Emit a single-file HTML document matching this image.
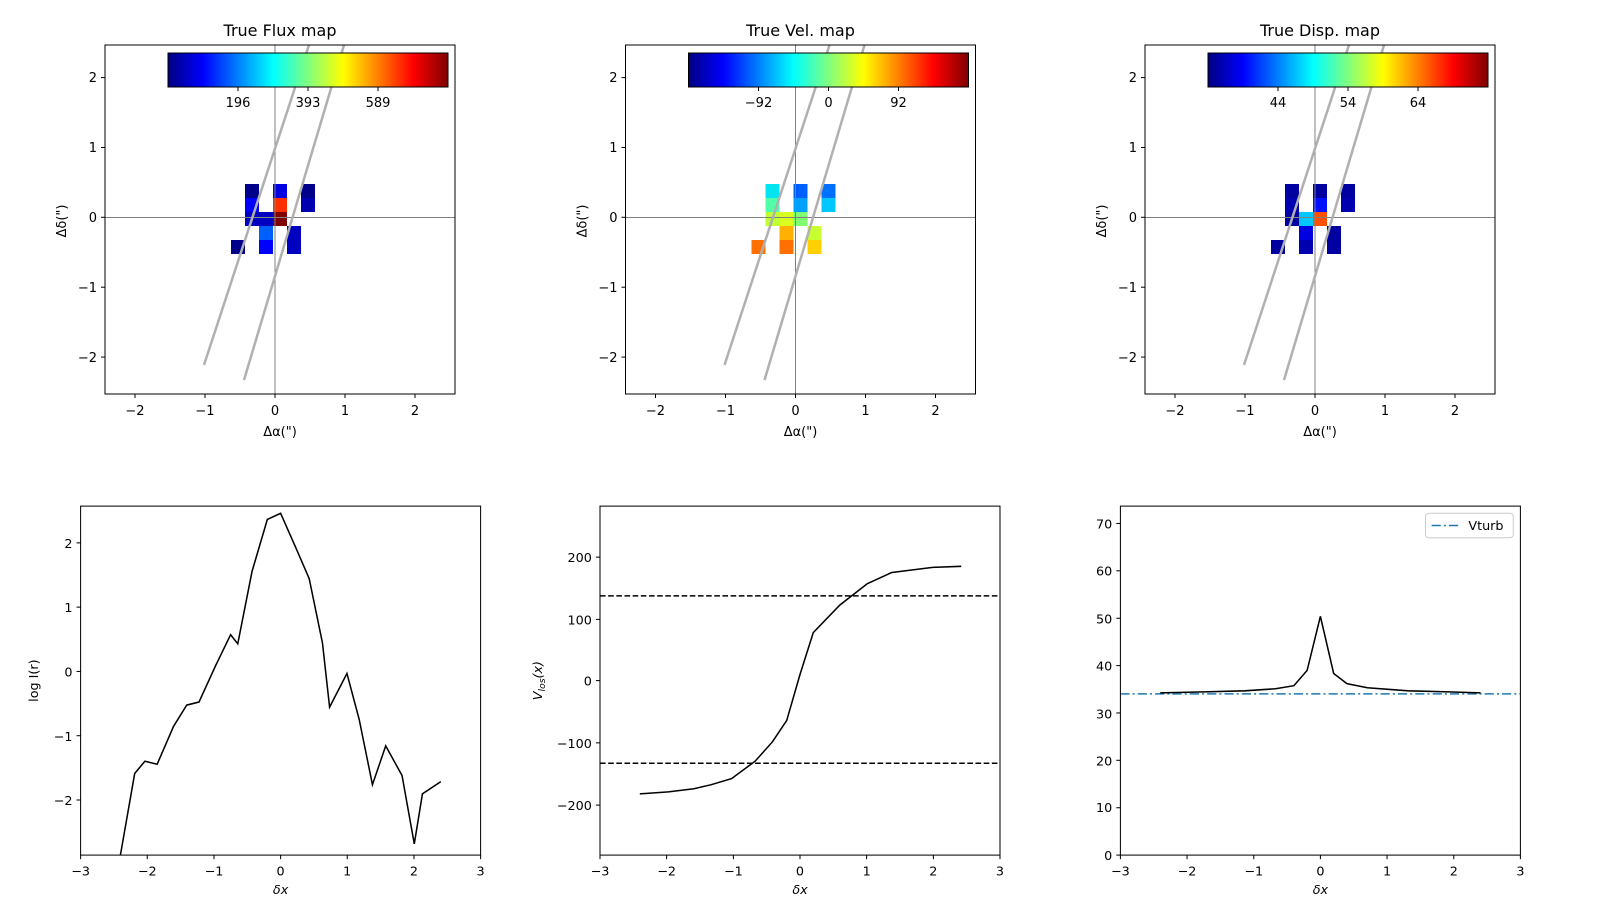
<!DOCTYPE html>
<html><head><meta charset="utf-8"><style>
html,body{margin:0;padding:0;background:#fff;}
svg{display:block;font-family:"DejaVu Sans","Liberation Sans",sans-serif;}
</style></head><body>
<svg width="1600" height="900" viewBox="0 0 1600 900" xmlns="http://www.w3.org/2000/svg">
<defs>
<linearGradient id="jet" x1="0" x2="1" y1="0" y2="0">
<stop offset="0" stop-color="#000080"/><stop offset="0.125" stop-color="#0000ff"/>
<stop offset="0.375" stop-color="#00ffff"/><stop offset="0.625" stop-color="#ffff00"/>
<stop offset="0.875" stop-color="#ff0000"/><stop offset="1" stop-color="#800000"/>
</linearGradient>
<g id="topframe">
  <line x1="275" y1="45" x2="275" y2="394" stroke="#808080" stroke-width="1"/>
  <line x1="105" y1="217.5" x2="455" y2="217.5" stroke="#808080" stroke-width="1"/>
  <line x1="204" y1="365" x2="309" y2="45" stroke="#b0b0b0" stroke-width="2.5"/>
  <line x1="244" y1="380" x2="344" y2="45" stroke="#b0b0b0" stroke-width="2.5"/>
  <rect x="105" y="45" width="350" height="349" fill="none" stroke="#000" stroke-width="1"/>
  <rect x="168" y="53" width="280" height="34" fill="url(#jet)" stroke="#000" stroke-width="1"/>
  <g stroke="#000"><line x1="238" y1="87" x2="238" y2="91"/><line x1="308" y1="87" x2="308" y2="91"/><line x1="378" y1="87" x2="378" y2="91"/></g>
  <g stroke="#000">
    <line x1="135" y1="394" x2="135" y2="398"/><line x1="205" y1="394" x2="205" y2="398"/><line x1="275" y1="394" x2="275" y2="398"/><line x1="345" y1="394" x2="345" y2="398"/><line x1="415" y1="394" x2="415" y2="398"/>
    <line x1="101" y1="77.6" x2="105" y2="77.6"/><line x1="101" y1="147.5" x2="105" y2="147.5"/><line x1="101" y1="217.3" x2="105" y2="217.3"/><line x1="101" y1="287.2" x2="105" y2="287.2"/><line x1="101" y1="357.1" x2="105" y2="357.1"/>
  </g>
  <g font-size="13" text-anchor="middle" fill="#000">
    <text x="135" y="415">−2</text><text x="205" y="415">−1</text><text x="275" y="415">0</text><text x="345" y="415">1</text><text x="415" y="415">2</text>
    <text x="280" y="436">Δα(")</text>
  </g>
  <g font-size="13" text-anchor="end" fill="#000">
    <text x="97" y="82">2</text><text x="97" y="152">1</text><text x="97" y="222">0</text><text x="97" y="292">−1</text><text x="97" y="362">−2</text>
  </g>
  <text transform="translate(66,221) rotate(-90)" font-size="13" text-anchor="middle">Δδ(")</text>
</g>
</defs>

<!-- Panel 1 -->
<g>
  <rect x="245" y="184" width="14" height="14" fill="#00008b"/>
  <rect x="245" y="198" width="14" height="14" fill="#0000ff"/>
  <rect x="245" y="212" width="14" height="14" fill="#0000c0"/>
  <rect x="259" y="212" width="14" height="14" fill="#0000c0"/>
  <rect x="273" y="184" width="14" height="14" fill="#0000e0"/>
  <rect x="273" y="198" width="14" height="14" fill="#ff3000"/>
  <rect x="273" y="212" width="14" height="14" fill="#800000"/>
  <rect x="301" y="184" width="14" height="14" fill="#00008b"/>
  <rect x="301" y="198" width="14" height="14" fill="#0000b0"/>
  <rect x="259" y="226" width="14" height="14" fill="#0060ff"/>
  <rect x="259" y="240" width="14" height="14" fill="#0000ff"/>
  <rect x="287" y="226" width="14" height="14" fill="#0000c0"/>
  <rect x="287" y="240" width="14" height="14" fill="#0000c0"/>
  <rect x="231" y="240" width="14" height="14" fill="#00008b"/>
  <use href="#topframe"/>
  <text x="280" y="36" font-size="16" text-anchor="middle">True Flux map</text>
  <g font-size="13" text-anchor="middle"><text x="238" y="107">196</text><text x="308" y="107">393</text><text x="378" y="107">589</text></g>
</g>

<!-- Panel 2 -->
<g transform="translate(520.5,0)">
  <rect x="245" y="184" width="14" height="14" fill="#00e5f0"/>
  <rect x="245" y="198" width="14" height="14" fill="#50ffa8"/>
  <rect x="245" y="212" width="14" height="14" fill="#c0ff30"/>
  <rect x="259" y="212" width="14" height="14" fill="#d8ff20"/>
  <rect x="273" y="184" width="14" height="14" fill="#0060ff"/>
  <rect x="273" y="198" width="14" height="14" fill="#00a0ff"/>
  <rect x="273" y="212" width="14" height="14" fill="#80ff70"/>
  <rect x="301" y="184" width="14" height="14" fill="#0070ff"/>
  <rect x="301" y="198" width="14" height="14" fill="#00c8ff"/>
  <rect x="259" y="226" width="14" height="14" fill="#ffb000"/>
  <rect x="259" y="240" width="14" height="14" fill="#ff7000"/>
  <rect x="231" y="240" width="14" height="14" fill="#ff7000"/>
  <rect x="287" y="226" width="14" height="14" fill="#c8ff30"/>
  <rect x="287" y="240" width="14" height="14" fill="#ffd000"/>
  <use href="#topframe"/>
  <text x="280" y="36" font-size="16" text-anchor="middle">True Vel. map</text>
  <g font-size="13" text-anchor="middle"><text x="238" y="107">−92</text><text x="308" y="107">0</text><text x="378" y="107">92</text></g>
</g>

<!-- Panel 3 -->
<g transform="translate(1040,0)">
  <rect x="245" y="184" width="14" height="14" fill="#0000a0"/>
  <rect x="245" y="198" width="14" height="14" fill="#0000b0"/>
  <rect x="245" y="212" width="14" height="14" fill="#0000a0"/>
  <rect x="259" y="212" width="14" height="14" fill="#00c8ff"/>
  <rect x="273" y="184" width="14" height="14" fill="#0000a0"/>
  <rect x="273" y="198" width="14" height="14" fill="#0010ff"/>
  <rect x="273" y="212" width="14" height="14" fill="#ff5000"/>
  <rect x="301" y="184" width="14" height="14" fill="#0000a0"/>
  <rect x="301" y="198" width="14" height="14" fill="#0000b0"/>
  <rect x="259" y="226" width="14" height="14" fill="#0000e0"/>
  <rect x="259" y="240" width="14" height="14" fill="#0000b0"/>
  <rect x="287" y="226" width="14" height="14" fill="#0000a0"/>
  <rect x="287" y="240" width="14" height="14" fill="#0000a0"/>
  <rect x="231" y="240" width="14" height="14" fill="#0000a0"/>
  <use href="#topframe"/>
  <text x="280" y="36" font-size="16" text-anchor="middle">True Disp. map</text>
  <g font-size="13" text-anchor="middle"><text x="238" y="107">44</text><text x="308" y="107">54</text><text x="378" y="107">64</text></g>
</g>

<!-- Bottom panels in perceived coords, scaled -->
<g transform="scale(1.0204)">
  <!-- BL -->
  <g stroke="#000" stroke-width="1">
    <line x1="79" y1="838" x2="79" y2="842"/><line x1="144.3" y1="838" x2="144.3" y2="842"/><line x1="209.7" y1="838" x2="209.7" y2="842"/><line x1="275" y1="838" x2="275" y2="842"/><line x1="340.3" y1="838" x2="340.3" y2="842"/><line x1="405.7" y1="838" x2="405.7" y2="842"/><line x1="471" y1="838" x2="471" y2="842"/>
    <line x1="75" y1="532" x2="79" y2="532"/><line x1="75" y1="595" x2="79" y2="595"/><line x1="75" y1="658" x2="79" y2="658"/><line x1="75" y1="721" x2="79" y2="721"/><line x1="75" y1="784" x2="79" y2="784"/>
  </g>
  <polyline fill="none" stroke="#000" stroke-width="1.5" points="118,838 132,758 142,746 154,749 170,712 183,691 195,688 211,653 226,622 233,631 247,560 262,509 275,503 290,537 303,567 316,630 323,693 340,660 352,705 365,769 378,731 394,760 406,827 414,778 432,766"/>
  <rect x="79" y="496" width="392" height="342" fill="none" stroke="#000"/>
  <g font-size="12.5" text-anchor="middle">
    <text x="79" y="858">−3</text><text x="144.3" y="858">−2</text><text x="209.7" y="858">−1</text><text x="275" y="858">0</text><text x="340.3" y="858">1</text><text x="405.7" y="858">2</text><text x="471" y="858">3</text>
    <text x="275" y="876" font-style="italic">δx</text>
  </g>
  <g font-size="12.5" text-anchor="end">
    <text x="71" y="537">2</text><text x="71" y="600">1</text><text x="71" y="663">0</text><text x="71" y="726">−1</text><text x="71" y="789">−2</text>
  </g>
  <text transform="translate(37,667) rotate(-90)" font-size="12.5" text-anchor="middle">log I(r)</text>

  <!-- BM -->
  <g stroke="#000" stroke-width="1">
    <line x1="588" y1="838" x2="588" y2="842"/><line x1="653.3" y1="838" x2="653.3" y2="842"/><line x1="718.7" y1="838" x2="718.7" y2="842"/><line x1="784" y1="838" x2="784" y2="842"/><line x1="849.3" y1="838" x2="849.3" y2="842"/><line x1="914.7" y1="838" x2="914.7" y2="842"/><line x1="980" y1="838" x2="980" y2="842"/>
    <line x1="584" y1="546" x2="588" y2="546"/><line x1="584" y1="607" x2="588" y2="607"/><line x1="584" y1="667" x2="588" y2="667"/><line x1="584" y1="728" x2="588" y2="728"/><line x1="584" y1="789" x2="588" y2="789"/>
  </g>
  <line x1="588" y1="584" x2="980" y2="584" stroke="#000" stroke-width="1.5" stroke-dasharray="5.5,2.5"/>
  <line x1="588" y1="748" x2="980" y2="748" stroke="#000" stroke-width="1.5" stroke-dasharray="5.5,2.5"/>
  <polyline fill="none" stroke="#000" stroke-width="1.5" points="627,778 655,776 680,773 697,769 717,763 740,746 757,727 771,706 784,661 797,620 823,593 850,572 874,561 914,556 942,555"/>
  <rect x="588" y="496" width="392" height="342" fill="none" stroke="#000"/>
  <g font-size="12.5" text-anchor="middle">
    <text x="588" y="858">−3</text><text x="653.3" y="858">−2</text><text x="718.7" y="858">−1</text><text x="784" y="858">0</text><text x="849.3" y="858">1</text><text x="914.7" y="858">2</text><text x="980" y="858">3</text>
    <text x="784" y="876" font-style="italic">δx</text>
  </g>
  <g font-size="12.5" text-anchor="end">
    <text x="580" y="551">200</text><text x="580" y="612">100</text><text x="580" y="672">0</text><text x="580" y="733">−100</text><text x="580" y="794">−200</text>
  </g>
  <text transform="translate(531,667) rotate(-90)" font-size="12.5" text-anchor="middle" font-style="italic">V<tspan font-size="9" dy="3">los</tspan><tspan dy="-3">(x)</tspan></text>

  <!-- BR -->
  <g stroke="#000" stroke-width="1">
    <line x1="1098" y1="838" x2="1098" y2="842"/><line x1="1163.3" y1="838" x2="1163.3" y2="842"/><line x1="1228.7" y1="838" x2="1228.7" y2="842"/><line x1="1294" y1="838" x2="1294" y2="842"/><line x1="1359.3" y1="838" x2="1359.3" y2="842"/><line x1="1424.7" y1="838" x2="1424.7" y2="842"/><line x1="1490" y1="838" x2="1490" y2="842"/>
    <line x1="1094" y1="513" x2="1098" y2="513"/><line x1="1094" y1="559.4" x2="1098" y2="559.4"/><line x1="1094" y1="605.9" x2="1098" y2="605.9"/><line x1="1094" y1="652.3" x2="1098" y2="652.3"/><line x1="1094" y1="698.7" x2="1098" y2="698.7"/><line x1="1094" y1="745.1" x2="1098" y2="745.1"/><line x1="1094" y1="791.6" x2="1098" y2="791.6"/><line x1="1094" y1="838" x2="1098" y2="838"/>
  </g>
  <line x1="1098" y1="680" x2="1490" y2="680" stroke="#1f77b4" stroke-width="1.5" stroke-dasharray="9,3,2,3"/>
  <polyline fill="none" stroke="#000" stroke-width="1.5" points="1137,679 1180,678 1220,677 1250,675 1268,672 1281,657 1294,604 1307,660 1320,670 1340,674 1380,677 1420,678 1451,679"/>
  <rect x="1098" y="496" width="392" height="342" fill="none" stroke="#000"/>
  <rect x="1397" y="503" width="86" height="24" rx="3" fill="#fff" stroke="#ccc"/>
  <line x1="1403" y1="515" x2="1431" y2="515" stroke="#1f77b4" stroke-width="1.5" stroke-dasharray="9,3,2,3"/>
  <text x="1439" y="519.5" font-size="12.5">Vturb</text>
  <g font-size="12.5" text-anchor="middle">
    <text x="1098" y="858">−3</text><text x="1163.3" y="858">−2</text><text x="1228.7" y="858">−1</text><text x="1294" y="858">0</text><text x="1359.3" y="858">1</text><text x="1424.7" y="858">2</text><text x="1490" y="858">3</text>
    <text x="1294" y="876" font-style="italic">δx</text>
  </g>
  <g font-size="12.5" text-anchor="end">
    <text x="1090" y="518">70</text><text x="1090" y="564">60</text><text x="1090" y="611">50</text><text x="1090" y="657">40</text><text x="1090" y="704">30</text><text x="1090" y="750">20</text><text x="1090" y="796">10</text><text x="1090" y="843">0</text>
  </g>
</g>
</svg>
</body></html>
